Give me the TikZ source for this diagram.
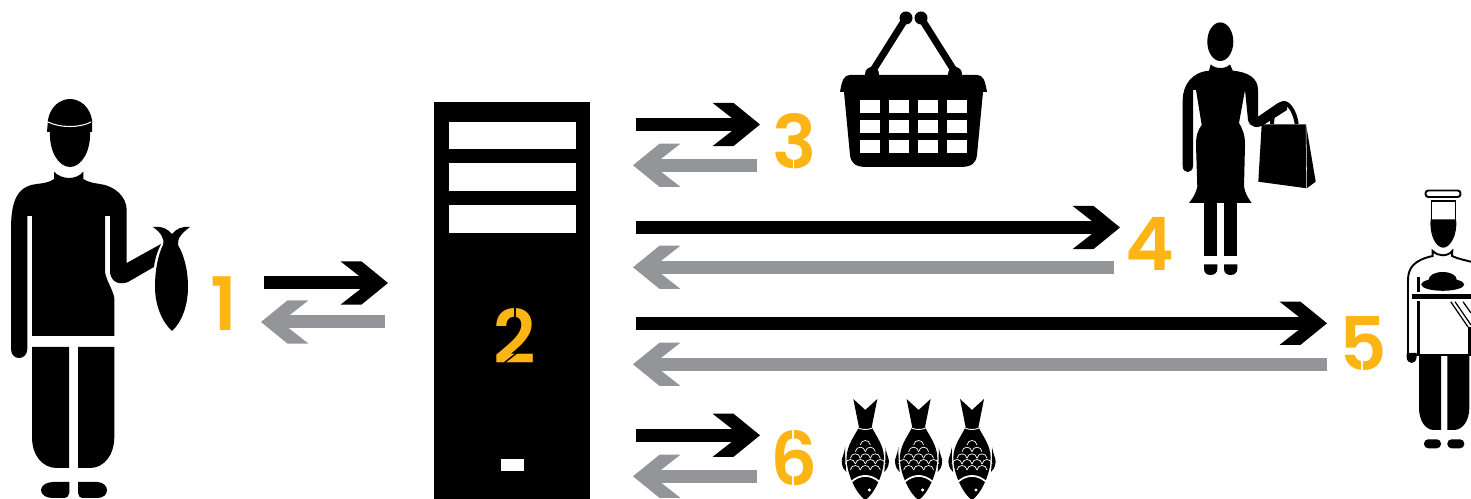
\documentclass[tikz,border=0pt]{standalone}
\usepackage{fontspec}
\setmainfont{Poppins}
\newfontfamily\numfont{Poppins SemiBold}
\usetikzlibrary{arrows.meta}

\definecolor{numyellow}{HTML}{FDB515}
\definecolor{backgray}{HTML}{939598}

\pgfdeclarearrow{
  name = Chevron,
  setup code = {
    \pgfarrowssettipend{0pt}
    \pgfarrowssetlineend{-11pt}
    \pgfarrowssetvisualbackend{-27pt}
    \pgfarrowssetbackend{-27pt}
    \pgfarrowshullpoint{0pt}{0pt}
    \pgfarrowshullpoint{-27pt}{12.3pt}
    \pgfarrowshullpoint{-27pt}{-12.3pt}
  },
  drawing code = {
    \pgfpathmoveto{\pgfpoint{0pt}{0pt}}
    \pgfpathlineto{\pgfpoint{-15.1pt}{12.3pt}}
    \pgfpathlineto{\pgfpoint{-27pt}{12.3pt}}
    \pgfpathlineto{\pgfpoint{-11.3pt}{0pt}}
    \pgfpathlineto{\pgfpoint{-27pt}{-12.3pt}}
    \pgfpathlineto{\pgfpoint{-15.1pt}{-12.3pt}}
    \pgfpathclose
    \pgfusepathqfill
  },
}

\tikzset{
  flowout/.style={line width=0.26cm, black, -{Chevron}},
  flowback/.style={line width=0.26cm, backgray, -{Chevron}},
  numlabel/.style={inner sep=0pt, text=numyellow, font=\fontsize{42}{42}\numfont},
  stencilcut/.style={white, line width=1pt},
  smallfish/.pic={
    \fill (-12,-51) -- (0,-40) -- (12,-51) -- (6.4,-23)
      .. controls (10,-15) and (18.7,-5) .. (18.7,8)
      .. controls (18.7,25) and (8,45) .. (0,50)
      .. controls (-8,45) and (-18.7,25) .. (-18.7,8)
      .. controls (-18.7,-5) and (-10,-15) .. (-6.4,-23) -- cycle;
    \foreach \sgn in {-1,1} {
      \fill (\sgn*20.3,-3) .. controls (\sgn*21,5) and (\sgn*24,8) .. (\sgn*23.6,12)
        .. controls (\sgn*23,18) and (\sgn*21,20) .. (\sgn*19,22) -- (\sgn*20,10) -- cycle;
    }
    \draw [white, line width=0.5pt] (-7,-22) .. controls (-3,-20) and (3,-20) .. (7,-22);
    \draw [white, line width=1pt] (-14,31.7) .. controls (-5,24) and (5,24) .. (14,31.7);
    \fill [white] (4,40) circle (1.7);
    % scales
    \foreach \sx/\sy in {0/-5, -5/1.7, 5/1.7, -10/8.3, 0/8.3, 10/8.3,
                         -15/14, -5/14, 5/14, 15/14, -10/20, 0/20, 10/20} {
      \draw [white, line width=0.4pt] (\sx-5,\sy) .. controls (\sx-4,\sy-6) and (\sx+4,\sy-6) .. (\sx+5,\sy);
    }
  },
}

\begin{document}
\begin{tikzpicture}[x=0.02cm, y=-0.02cm]

    \useasboundingbox (0,0) rectangle (1471,499);

    % --- 1. Fisherman ---
    \fill (47,132) -- (48,120) .. controls (50,107) and (60,99) .. (70,99)
      .. controls (80,99) and (90,107) .. (92,120) -- (92,132) -- (90,132)
      .. controls (91,150) and (82,167) .. (70,167)
      .. controls (58,167) and (49,150) .. (50,132) -- cycle;
    \draw [white, line width=0.6pt] (48,122) .. controls (60,128) and (80,128) .. (91,122);
    \fill (54,171.7) .. controls (58,176) and (64,178) .. (69,178)
      .. controls (74,178) and (80,176) .. (83.3,171.7) -- (83.3,179)
      .. controls (88,182) and (93,183) .. (100,184)
      .. controls (115,186) and (126.7,197) .. (126.7,210) -- (126.7,263) -- (161,244)
      .. controls (158,250) and (155,258) .. (154,267) -- (128,282)
      .. controls (120,285) and (112,283) .. (110,273) -- (110,216) -- (105,216) -- (105,272)
      .. controls (106,280) and (113,290) .. (114.3,298) -- (114.3,336) -- (32,336)
      -- (32,216) -- (27.3,216) -- (27.3,349)
      .. controls (27.3,355) and (23,358) .. (19,358)
      .. controls (15,358) and (11,355) .. (11,349) -- (11,230)
      .. controls (11,205) and (15,186) .. (37,184)
      .. controls (45,183) and (50,182) .. (54,179) -- cycle;
    \fill (32,347) -- (69,347) -- (69,468) -- (57,468) .. controls (42,468) and (32,455) .. (32,437) -- cycle;
    \fill (78,347) -- (114.3,347) -- (114.3,437) .. controls (114.3,455) and (104,468) .. (90,468) -- (78,468) -- cycle;
    \fill (69.3,482) -- (53,482) .. controls (46,482) and (41,486) .. (41,490)
      .. controls (41,495) and (46,498) .. (53,498) -- (63,498) .. controls (67,498) and (69.3,496) .. (69.3,493) -- cycle;
    \fill (78,482) -- (97,482) .. controls (103,482) and (107,486) .. (107,490)
      .. controls (107,495) and (103,498) .. (97,498) -- (84,498) .. controls (80,498) and (78,496) .. (78,493) -- cycle;
    % held fish
    \fill (153,227) .. controls (162,226) and (168,229) .. (172,234)
      .. controls (176,229) and (182,226) .. (190,227)
      .. controls (183,232) and (177,238) .. (178,245)
      .. controls (184,255) and (188,270) .. (188,287)
      .. controls (188,305) and (182,322) .. (172,331)
      .. controls (162,322) and (155,305) .. (155,287)
      .. controls (155,270) and (158,255) .. (163,245)
      .. controls (165,238) and (160,232) .. (153,227) -- cycle;

    % --- 2. Server tower ---
    \fill (434,102) rectangle (590,510);
    \fill [white] (449,121.7) rectangle (575.7,149.3);
    \fill [white] (449,163.3) rectangle (575.7,191);
    \fill [white] (449,205) rectangle (575.7,233);
    \fill [white] (501,459) rectangle (524,471);

    % --- 3. Basket ---
    \draw [line width=0.14cm] (906,18) -- (872,72);
    \draw [line width=0.14cm] (921,18) -- (955,72);
    \foreach \bx/\by/\br in {906/18/6.5, 921/18/6.5, 872/74/7, 955/74/7} {
        \fill (\bx,\by) circle (\br);
    }
    \fill (850,75) -- (977,75) .. controls (983,75) and (985,80) .. (987,92) -- (983,92)
      -- (977,155) .. controls (976,163) and (972,167) .. (960,167) -- (867,167)
      .. controls (855,167) and (851,163) .. (850,155) -- (844,92) -- (840,92)
      .. controls (842,80) and (844,75) .. (850,75) -- cycle;
    \foreach \wx in {860,889,918,947} {
        \foreach \wy in {100,120,140} {
            \fill [white] (\wx,\wy) rectangle (\wx+20,\wy+13);
        }
    }

    % --- 4. Shopper ---
    \fill (1220.3,41.7) ellipse (13 and 19.3);
    \fill (1210.7,64.3) .. controls (1213,67) and (1217,68) .. (1220.3,68)
      .. controls (1224,68) and (1228,67) .. (1230,64.3) -- (1232.7,70.7)
      .. controls (1248,72) and (1258,78) .. (1258,90) -- (1258,116.7) -- (1278,103)
      .. controls (1283,100) and (1289,104) .. (1287,110) -- (1265,124)
      .. controls (1258,129) and (1250,128) .. (1248,120) -- (1245,90) -- (1239,123)
      .. controls (1243,130) and (1245,135) .. (1245,145) -- (1244,186.7)
      .. controls (1245,193) and (1248,198) .. (1251.7,203) -- (1189,203)
      .. controls (1193,198) and (1196,193) .. (1197.3,186.7) -- (1196,145)
      .. controls (1196,135) and (1198,130) .. (1201.7,125) -- (1196,90) -- (1193,90) -- (1193,166)
      .. controls (1193,170) and (1190,172) .. (1187.7,172)
      .. controls (1185,172) and (1182.7,170) .. (1182.7,166) -- (1182.7,100)
      .. controls (1182.7,85) and (1192,72) .. (1209,70.7) -- cycle;
    \fill (1204,203) rectangle (1217.3,256);
    \fill (1224,203) rectangle (1237.3,256);
    \foreach \fx in {1204,1224} {
        \fill (\fx,264.3) -- (\fx+13.3,264.3) -- (\fx+13.3,269)
          .. controls (\fx+13.3,273) and (\fx+10,275) .. (\fx+6.6,275)
          .. controls (\fx+3,275) and (\fx,273) .. (\fx,269) -- cycle;
    }
    \fill (1261.7,124.3) -- (1306,124.3) -- (1315.7,181.7) -- (1306.7,188.3) -- (1258.3,181.7) -- cycle;
    \draw [white, line width=0.3pt] (1306,124.3) -- (1306.7,188.3);
    \draw [line width=0.08cm] (1272,124) .. controls (1272,110) and (1280,103) .. (1284,103)
      .. controls (1289,103) and (1295,112) .. (1296.7,124);

    % --- 5. Chef ---
    \filldraw [fill=white, line width=1.1pt, rounded corners=1.6pt] (1425.5,190.5) rectangle (1460.5,197);
    \filldraw [fill=white, line width=1.1pt] (1431.5,201) rectangle (1455.5,222);
    \fill (1430.7,219.3) -- (1456,219.3) .. controls (1458,235) and (1450,247.7) .. (1443.3,247.7)
      .. controls (1436,247.7) and (1429,235) .. (1430.7,219.3) -- cycle;
    \filldraw [fill=white, line width=1.1pt] (1432.7,251) .. controls (1436,254) and (1439,255.3) .. (1442.7,255.3)
      .. controls (1446,255.3) and (1450,254) .. (1452.3,251) -- (1452,256)
      .. controls (1458,259) and (1465,260) .. (1472,262) -- (1472,355) -- (1408,355) -- (1408,280)
      .. controls (1408,268) and (1414,260) .. (1432.7,256) -- cycle;
    \fill (1407,353) -- (1416.7,353) -- (1416.7,356) .. controls (1416.7,361) and (1414,363) .. (1411.7,363)
      .. controls (1409,363) and (1406.5,361) .. (1406.5,356) -- cycle;
    \fill (1417.3,277) rectangle (1420,291.7);
    \fill (1417.3,301) rectangle (1420,355);
    \fill (1412,294) rectangle (1472,299);
    \fill (1442.7,279.5) ellipse (14 and 7.5);
    \fill (1442.7,284.5) ellipse (21.5 and 6.3);
    \draw [line width=0.7pt] (1450.7,301.7) -- (1468,327);
    \draw [line width=0.7pt] (1455,301.7) -- (1471,325);
    \draw [line width=0.7pt] (1463,301.7) -- (1471,313);
    \fill (1468.3,327) rectangle (1472,355);
    \fill (1419,356) -- (1441,356) -- (1441,430) -- (1434,430) .. controls (1425,430) and (1419,420) .. (1419,408) -- cycle;
    \fill (1447.3,356) -- (1469.3,356) -- (1469.3,408) .. controls (1469.3,420) and (1463,430) .. (1454,430) -- (1447.3,430) -- cycle;
    \fill [rounded corners=2.4pt] (1424,439.3) rectangle (1441,448.3);
    \fill [rounded corners=2.4pt] (1447.3,439.3) rectangle (1464.3,448.3);

    % --- 6. Fish row ---
    \foreach \fishx in {865.3,918.6,972} {
        \pic at (\fishx,450) {smallfish};
    }

    % --- Numbers ---
    \node [numlabel] (num1) at (224,304) {1};
    \node [numlabel] (num2) at (515,336) {2};
    \node [numlabel] (num3) at (795,141) {3};
    \node [numlabel] (num4) at (1150,244) {4};
    \node [numlabel] (num5) at (1363,344) {5};
    \node [numlabel] (num6) at (794,458) {6};

    % stencil gaps in the numbers
    \draw [black, line width=0.8pt] (515,308) -- (515,319);
    \draw [black, line width=0.8pt] (504,363) -- (518,352);
    \draw [stencilcut] (793.5,158) -- (793.5,171);
    \draw [stencilcut] (1361.7,358) -- (1361.7,371);
    \draw [stencilcut] (793,430) -- (793,445);
    \draw [stencilcut] (793,473) -- (793,486);

    % --- Arrows ---
    \foreach \row/\xa/\xb/\ya/\xc/\xd/\yb in {
        1/264/388/283/385/261/322,
        3/636/760/124.5/757/633/165.3,
        4/636/1120/227.5/1114/633/267.3,
        5/636/1327/323.3/1327/633/364.3,
        6/636/760/435.3/757/633/476.3} {
        \coordinate (out\row) at (\xa,\ya);
        \coordinate (outend\row) at (\xb,\ya);
        \coordinate (back\row) at (\xc,\yb);
        \coordinate (backend\row) at (\xd,\yb);
        \draw [flowout] (out\row) -- (outend\row);
        \draw [flowback] (back\row) -- (backend\row);
    }

\end{tikzpicture}
\end{document}
